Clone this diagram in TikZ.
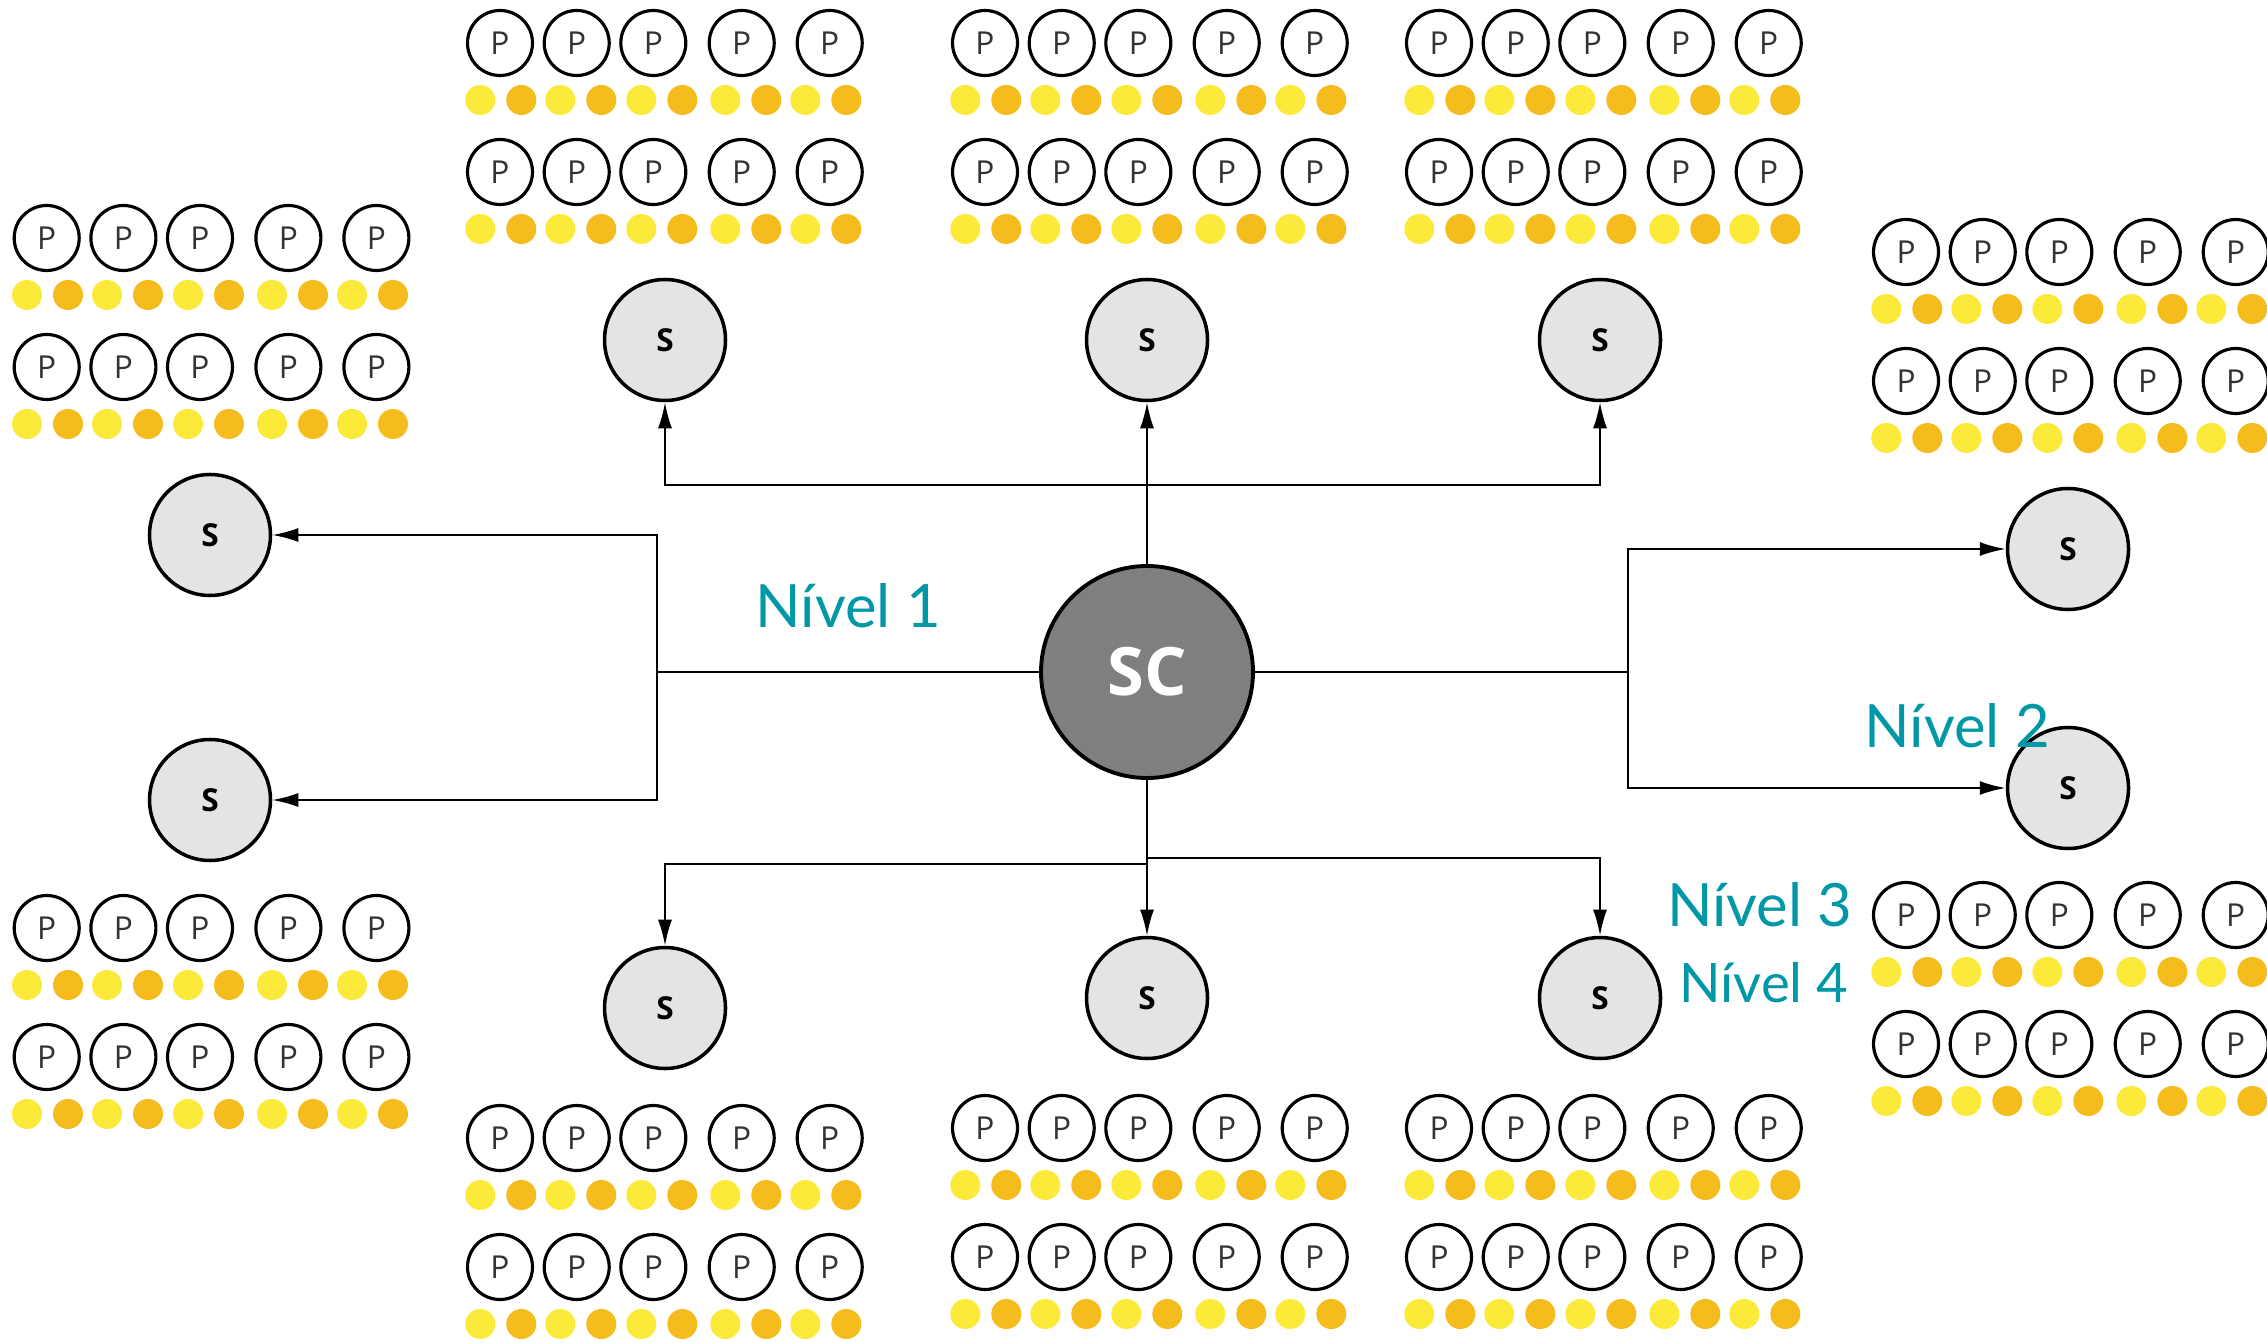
\documentclass[tikz,border=0pt]{standalone}
\usepackage{fontspec}
\usetikzlibrary{arrows.meta}
\usetikzlibrary{positioning,calc}
\newfontfamily\nodefont{Open Sans}
\newfontfamily\levelfont{Lato}
\definecolor{scgray}{HTML}{7F7F7F}
\definecolor{sgray}{HTML}{E4E4E4}
\definecolor{dotlight}{HTML}{FCEA3A}
\definecolor{dotdark}{HTML}{F4BC1C}
\definecolor{nivel}{HTML}{0097A7}

\begin{document}
\begin{tikzpicture}[
         central/.style = {circle,draw,line width=1.1pt,fill=scgray,text=white,
            minimum size=2.12cm,inner sep=0pt,
            font=\nodefont\bfseries\fontsize{19}{19}\selectfont},
         server/.style = {circle,draw,line width=1pt,fill=sgray,
            minimum size=1.21cm,inner sep=0pt,
            font=\nodefont\bfseries\fontsize{9}{9}\selectfont},
         proc/.style = {circle,draw,line width=0.9pt,minimum size=0.65cm,
            inner sep=0pt,text=black!80,font=\nodefont\fontsize{9}{9}\selectfont},
         slot/.style = {circle,inner sep=0pt,minimum size=0.3cm},
         link/.style = {line width=0.6pt},
         arr/.style = {link,-{Latex[length=2.6mm,width=1.4mm]}},
         level/.style = {text=nivel,anchor=base west,inner sep=0pt,
            font=\levelfont\fontsize{17}{17}\selectfont}
]
      \useasboundingbox (0,0) rectangle (22.67,13.42);

      \node[central] (sc) at (11.47,6.70) {SC};

      \node[server] (sT1) at ( 6.65,10.02) {S};
      \node[server] (sT2) at (11.47,10.02) {S};
      \node[server] (sT3) at (16.00,10.02) {S};
      \node[server] (sL1) at ( 2.10, 8.07) {S};
      \node[server] (sL2) at ( 2.10, 5.42) {S};
      \node[server] (sR1) at (20.68, 7.93) {S};
      \node[server] (sR2) at (20.68, 5.54) {S};
      \node[server] (sB1) at ( 6.65, 3.34) {S};
      \node[server] (sB2) at (11.47, 3.44) {S};
      \node[server] (sB3) at (16.00, 3.44) {S};

      \coordinate (busT)  at (11.47,8.57);
      \coordinate (busL)  at ( 6.57,6.70);
      \coordinate (busR)  at (16.28,6.70);
      \coordinate (busBL) at (11.47,4.78);
      \coordinate (busBR) at (11.47,4.84);

      % links from the central node
      \draw[arr] (sc) -- (sT2);
      \draw[arr] (busT) -| (sT1);
      \draw[arr] (busT) -| (sT3);
      \draw[link] (sc) -- (busL);
      \draw[arr] (busL) |- (sL1);
      \draw[arr] (busL) |- (sL2);
      \draw[link] (sc) -- (busR);
      \draw[arr] (busR) |- (sR1);
      \draw[arr] (busR) |- (sR2);
      \draw[arr] (sc) -- (sB2);
      \draw[arr] (busBL) -| (sB1);
      \draw[arr] (busBR) -| (sB3);

      % process groups
      \foreach \g/\gx/\gy in {L1/0.467/11.04, L2/0.467/4.14, T1/5.00/12.99,
            T2/9.85/12.99, T3/14.39/12.99, R1/19.06/10.90, R2/19.06/4.27,
            B1/5.00/2.04, B2/9.85/2.14, B3/14.39/2.14}{
         \foreach \r/\dy in {a/0, b/-1.29}{
            \foreach \c/\dx in {1/0, 2/0.767, 3/1.533, 4/2.417, 5/3.297}
               \node[proc] (p\g\r\c) at (\gx+\dx,\gy+\dy) {P};
            \foreach \d/\dx/\dc in {1/-0.197/dotlight, 2/0.213/dotdark,
                  3/0.603/dotlight, 4/1.013/dotdark, 5/1.413/dotlight,
                  6/1.823/dotdark, 7/2.253/dotlight, 8/2.663/dotdark,
                  9/3.053/dotlight, 10/3.463/dotdark}
               \node[slot,fill=\dc] (d\g\r\d) at (\gx+\dx,\gy+\dy-0.57) {};
         }
      }

      \node[level] (n1) at ( 7.55,7.14) {Nível 1};
      \node[level] (n2) at (18.64,5.95) {Nível 2};
      \node[level,anchor=base east] (n3) at (18.53,4.16) {Nível 3};
      \node[level,anchor=base east,font=\levelfont\fontsize{15.5}{15.5}\selectfont]
         (n4) at (18.49,3.40) {Nível 4};
   \end{tikzpicture}
\end{document}
